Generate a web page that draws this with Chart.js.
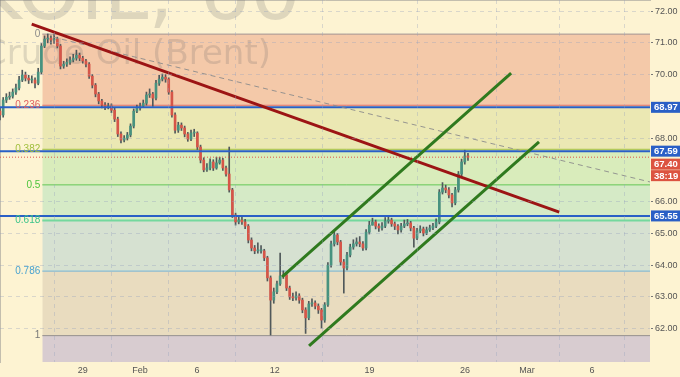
<!DOCTYPE html>
<html lang="en">
<head>
<meta charset="UTF-8">
<title>UKOIL, 60</title>
<script src="https://cdn.jsdelivr.net/npm/chart.js"></script>
<style>
  body { margin: 0; background: #fdf3d2; }
  canvas { display: block; }
</style>
</head>
<body>
<canvas id="chart" width="680" height="377"></canvas>
<script>
// x axis is in trading days, 0 = Mon 29 Jan
const xTickDays = [0, 3, 5.98, 10.05, 15.02, 20.02, 23.26, 26.66];
const xTickLabels = ['29', 'Feb', '6', '12', '19', '26', 'Mar', '6'];
const yTicks = [62, 63, 64, 65, 66, 68, 70, 71, 72];

// 4h candles
const firstCandleDay = -4.33;
const candleStep = 1 / 6;
const firstOpen = 68.85;
const closes = [
  68.73, 69.20, 69.29, 69.32, 69.45, 69.58, 69.83, 69.99, 69.89, 69.83,
  69.83, 69.73, 70.08, 70.90, 71.12, 71.15, 71.09, 71.12, 70.90, 70.27,
  70.33, 70.39, 70.46, 70.52, 70.61, 70.52, 70.43, 70.33, 69.95, 69.67,
  69.39, 69.17, 69.04, 68.98, 69.01, 68.88, 68.60, 68.13, 67.94, 68.00,
  68.10, 68.38, 68.85, 68.95, 69.01, 69.10, 69.36, 69.39, 69.26, 69.73,
  69.86, 69.92, 69.86, 69.45, 68.73, 68.25, 68.41, 68.32, 68.13, 67.97,
  68.16, 68.16, 67.72, 67.31, 67.00, 67.06, 67.25, 67.06, 67.22, 67.31,
  67.06, 66.87, 66.37, 65.58, 65.36, 65.42, 65.36, 65.23, 64.79, 64.54,
  64.45, 64.45, 64.45, 64.23, 63.60, 62.90, 63.16, 63.41, 63.66, 63.69,
  63.28, 63.00, 62.97, 63.03, 62.90, 62.59, 62.34, 62.78, 62.81, 62.71,
  62.59, 62.27, 62.75, 64.00, 64.67, 64.95, 64.73, 64.10, 63.91, 64.32,
  64.57, 64.67, 64.73, 64.67, 64.54, 65.04, 65.26, 65.36, 65.23, 65.17,
  65.23, 65.39, 65.42, 65.30, 65.23, 65.11, 65.23, 65.30, 65.33, 65.17,
  64.85, 65.08, 65.14, 65.01, 65.11, 65.17, 65.23, 65.36, 66.30, 66.43,
  66.37, 66.21, 65.96, 66.37, 66.87, 67.25, 67.44, 67.40
];
const highs = [
  68.95, 69.28, 69.40, 69.45, 69.55, 69.70, 69.95, 70.14, 70.08, 69.98,
  69.96, 69.90, 70.20, 70.98, 71.22, 71.28, 71.22, 71.26, 71.18, 70.95,
  70.42, 70.50, 70.56, 70.64, 70.77, 70.68, 70.58, 70.48, 70.38, 70.00,
  69.72, 69.44, 69.22, 69.12, 69.10, 69.08, 68.94, 68.66, 68.20, 68.08,
  68.18, 68.45, 68.92, 69.04, 69.10, 69.20, 69.45, 69.55, 69.44, 69.82,
  69.98, 70.02, 70.00, 69.90, 69.50, 68.80, 68.50, 68.48, 68.38, 68.18,
  68.25, 68.28, 68.20, 67.78, 67.38, 67.20, 67.35, 67.32, 67.40, 67.40,
  67.36, 67.12, 67.72, 66.42, 65.64, 65.55, 65.52, 65.44, 65.28, 64.86,
  64.62, 64.70, 64.62, 64.50, 64.28, 63.66, 63.28, 63.50, 64.38, 63.82,
  63.74, 63.34, 63.12, 63.16, 63.10, 62.96, 62.66, 62.86, 62.94, 62.88,
  62.78, 62.64, 62.82, 64.08, 64.76, 65.06, 65.00, 64.78, 64.18, 64.40,
  64.66, 64.80, 64.86, 64.90, 64.74, 65.12, 65.38, 65.48, 65.42, 65.30,
  65.34, 65.50, 65.56, 65.48, 65.36, 65.28, 65.32, 65.42, 65.44, 65.38,
  65.22, 65.16, 65.24, 65.20, 65.20, 65.26, 65.32, 65.46, 66.38, 66.60,
  66.52, 66.44, 66.26, 66.45, 66.95, 67.34, 67.62, 67.52
];
const lows = [
  68.57, 68.66, 69.12, 69.22, 69.26, 69.38, 69.52, 69.78, 69.80, 69.72,
  69.74, 69.58, 69.68, 70.02, 70.85, 71.00, 70.96, 70.98, 70.84, 70.18,
  70.20, 70.26, 70.32, 70.40, 70.45, 70.44, 70.36, 70.24, 69.88, 69.58,
  69.30, 69.08, 68.95, 68.90, 68.92, 68.80, 68.52, 68.05, 67.85, 67.88,
  67.94, 68.04, 68.32, 68.80, 68.88, 68.96, 69.04, 69.28, 69.00, 69.20,
  69.66, 69.80, 69.76, 69.38, 68.66, 68.16, 68.18, 68.24, 68.04, 67.90,
  67.92, 68.05, 67.64, 67.22, 66.94, 66.95, 67.00, 66.98, 67.02, 67.18,
  66.98, 66.80, 66.30, 65.50, 65.26, 65.30, 65.28, 65.15, 64.70, 64.45,
  64.36, 64.38, 64.38, 64.14, 63.50, 61.80, 62.80, 63.10, 63.36, 63.58,
  63.20, 62.92, 62.88, 62.90, 62.80, 62.50, 61.85, 62.28, 62.70, 62.62,
  62.48, 62.02, 62.20, 62.70, 63.94, 64.60, 64.64, 64.00, 63.12, 63.85,
  64.26, 64.50, 64.60, 64.58, 64.46, 64.48, 64.98, 65.26, 65.14, 65.06,
  65.10, 65.18, 65.32, 65.22, 65.12, 64.98, 65.04, 65.18, 65.24, 65.08,
  64.57, 64.80, 65.02, 64.92, 64.96, 65.06, 65.12, 65.18, 65.30, 66.24,
  66.28, 66.12, 65.83, 65.90, 66.30, 66.80, 67.18, 67.30
];

// fibonacci retracement drawn from the high to the low
const fibHigh = 71.276;
const fibLow = 61.78;
const fibRatios = [0, 0.236, 0.382, 0.5, 0.618, 0.786, 1];
const fibStartDay = -2.115;

// horizontal levels and price tags
const levels = [68.97, 67.59, 65.55];
const lastPrice = 67.40;
const countdown = '38:19';

// trend lines as [day, price] pairs
const redTrend = [[-2.67, 71.59], [24.95, 65.67]];
const dashTrend = [[-1.55, 71.18], [29.70, 66.62]];
const channelTop = [[10.44, 63.63], [22.43, 70.05]];
const channelBottom = [[11.85, 61.46], [23.89, 67.88]];

const xMin = -4.33, xMax = 29.70, yMin = 60.95, yMax = 72.35;

const upColor = '#47927f', downColor = '#d65548', wickColor = '#50585a';
const blue = '#2a5fc6';
const gridColor = 'rgba(150,160,190,0.35)';
const zoneColors = ['#f4c9a9', '#ebe8b3', '#d9ecbb', '#d5eac6', '#d6e1d1', '#e9dcbf', '#d8ccd0'];
const fibLineColors = ['#a09494', '#e06a6a', '#a5c040', '#62c655', '#74d89e', '#74b4d6', '#948f8f'];
const fibTextColors = ['#8a8a8a', '#e06060', '#a0bf3c', '#4cc43c', '#3cc48a', '#4aa3d0', '#777777'];

Chart.defaults.font.family = '"Liberation Sans", Arial, sans-serif';

const fibLevels = fibRatios.map(r => fibHigh - r * (fibHigh - fibLow));

const candleX = closes.map((c, i) => firstCandleDay + i * candleStep);
const opens = closes.map((c, i) => i === 0 ? firstOpen : closes[i - 1]);

function segment(label, pts, color, width, dash, order) {
    return {
        type: 'line', label: label,
        data: pts.map(p => ({ x: p[0], y: p[1] })),
        borderColor: color, borderWidth: width, borderDash: dash || [],
        pointRadius: 0, fill: false, tension: 0, order: order
    };
}

// no edge padding, so the plot fills the canvas like the screenshot
function noPadding(s) {
    s.paddingTop = 0;
    s.paddingBottom = 0;
    s.paddingLeft = 0;
    s.paddingRight = 0;
}

let datasets = [];

// fib zones (zone 0 is drawn last, the watermark goes right after it)
fibLevels.forEach((lv, i) => {
    let lower = i < fibLevels.length - 1 ? fibLevels[i + 1] : yMin;
    datasets.push({
        type: 'line', label: 'zone' + i,
        data: [{ x: fibStartDay, y: lv }, { x: xMax, y: lv }],
        borderColor: 'rgba(0,0,0,0)', borderWidth: 1, pointRadius: 0,
        backgroundColor: zoneColors[i],
        fill: { target: { value: lower } },
        order: i === 0 ? 20 : 21
    });
});

fibLevels.forEach((lv, i) => {
    datasets.push(segment('fib' + i, [[fibStartDay, lv], [xMax, lv]], fibLineColors[i], i === 4 ? 2 : 1, [], 15));
});

datasets.push({
    type: 'bar', label: 'wicks',
    data: closes.map((c, i) => ({ x: candleX[i], y: [lows[i], highs[i]] })),
    backgroundColor: wickColor, barThickness: 1, grouped: false, order: 10
});
datasets.push({
    type: 'bar', label: 'bodies',
    data: closes.map((c, i) => ({ x: candleX[i], y: [Math.min(opens[i], c), Math.max(opens[i], c)] })),
    backgroundColor: closes.map((c, i) => c >= opens[i] ? upColor : downColor),
    barThickness: 2, minBarLength: 1, grouped: false, order: 9
});

datasets.push(segment('price', [[xMin, lastPrice], [xMax, lastPrice]], '#e0504a', 1, [1, 2], 6));
levels.forEach((lv, i) => {
    datasets.push(segment('level' + i, [[xMin, lv], [xMax, lv]], blue, 2, [], 5));
});

datasets.push(segment('dash', dashTrend, 'rgba(140,140,140,0.9)', 1, [5, 4], 4));
datasets.push(segment('red', redTrend, '#9c1414', 3, [], 3));
datasets.push(segment('chanTop', channelTop, '#2f7a1e', 3, [], 2));
datasets.push(segment('chanBottom', channelBottom, '#2f7a1e', 3, [], 2));

const watermarkPlugin = {
    id: 'watermark',
    afterDatasetDraw(chart, args) {
        if (chart.data.datasets[args.index].label !== 'zone0') return;
        const ctx = chart.ctx;
        ctx.save();
        ctx.fillStyle = 'rgba(100,100,100,0.2)';
        ctx.textAlign = 'right';
        ctx.textBaseline = 'alphabetic';
        ctx.font = '80px "DejaVu Sans"';
        ctx.fillText('UKOIL, 60', 301, 19);
        ctx.font = '34px "DejaVu Sans"';
        ctx.fillText('Crude Oil (Brent)', 271, 64);
        ctx.restore();
    }
};

const fibLabelPlugin = {
    id: 'fibLabels',
    afterDatasetsDraw(chart) {
        const ctx = chart.ctx;
        const x = chart.scales.x, y = chart.scales.y;
        ctx.save();
        ctx.font = '10px "Liberation Sans"';
        ctx.textAlign = 'right';
        ctx.textBaseline = 'middle';
        fibRatios.forEach((r, i) => {
            ctx.fillStyle = fibTextColors[i];
            ctx.fillText(String(r), x.getPixelForValue(fibStartDay) - 2, y.getPixelForValue(fibLevels[i]));
        });
        ctx.restore();
    }
};

const axisTagPlugin = {
    id: 'axisTags',
    afterDraw(chart) {
        const ctx = chart.ctx;
        const y = chart.scales.y;
        const left = chart.chartArea.right + 1;
        const tag = (text, top, color) => {
            ctx.fillStyle = color;
            ctx.fillRect(left, top, 30, 11);
            ctx.fillStyle = '#ffffff';
            ctx.fillText(text, left + 3, top + 6);
        };
        ctx.save();
        ctx.font = 'bold 9.5px "Liberation Sans"';
        ctx.textAlign = 'left';
        ctx.textBaseline = 'middle';
        levels.forEach(lv => tag(lv.toFixed(2), y.getPixelForValue(lv) - 5.5, blue));
        let priceTop = Math.max(y.getPixelForValue(lastPrice) - 5.5, y.getPixelForValue(levels[1]) + 7.5);
        tag(lastPrice.toFixed(2), priceTop, '#dc5340');
        tag(countdown, priceTop + 11.5, '#dc5340');
        ctx.restore();
    }
};

new Chart(document.getElementById('chart'), {
    type: 'bar',
    data: { datasets: datasets },
    options: {
        responsive: false,
        animation: false,
        layout: { padding: 0 },
        plugins: { legend: { display: false }, tooltip: { enabled: false } },
        scales: {
            x: {
                type: 'linear', min: xMin, max: xMax, offset: false,
                afterBuildTicks: s => { s.ticks = xTickDays.map(v => ({ value: v })); },
                afterFit: s => { s.height = 15; noPadding(s); },
                ticks: {
                    autoSkip: false, maxRotation: 0, padding: 3, color: '#555',
                    font: { size: 9 },
                    callback: (v, i) => xTickLabels[i]
                },
                grid: { color: gridColor, drawTicks: false, z: 1 },
                border: { color: '#8a8a8a', dash: [4, 4] }
            },
            y: {
                position: 'right', min: yMin, max: yMax, beginAtZero: false,
                afterBuildTicks: s => { s.ticks = yTicks.map(v => ({ value: v })); },
                afterFit: s => { s.width = 30; noPadding(s); },
                ticks: {
                    padding: 2, color: '#555', font: { size: 9 },
                    callback: v => v.toFixed(2)
                },
                grid: { color: gridColor, tickColor: '#777', tickLength: 3, tickBorderDash: [], z: 1 },
                border: { color: '#8a8a8a', dash: [4, 4] }
            }
        }
    },
    plugins: [watermarkPlugin, fibLabelPlugin, axisTagPlugin]
});
</script>
</body>
</html>
